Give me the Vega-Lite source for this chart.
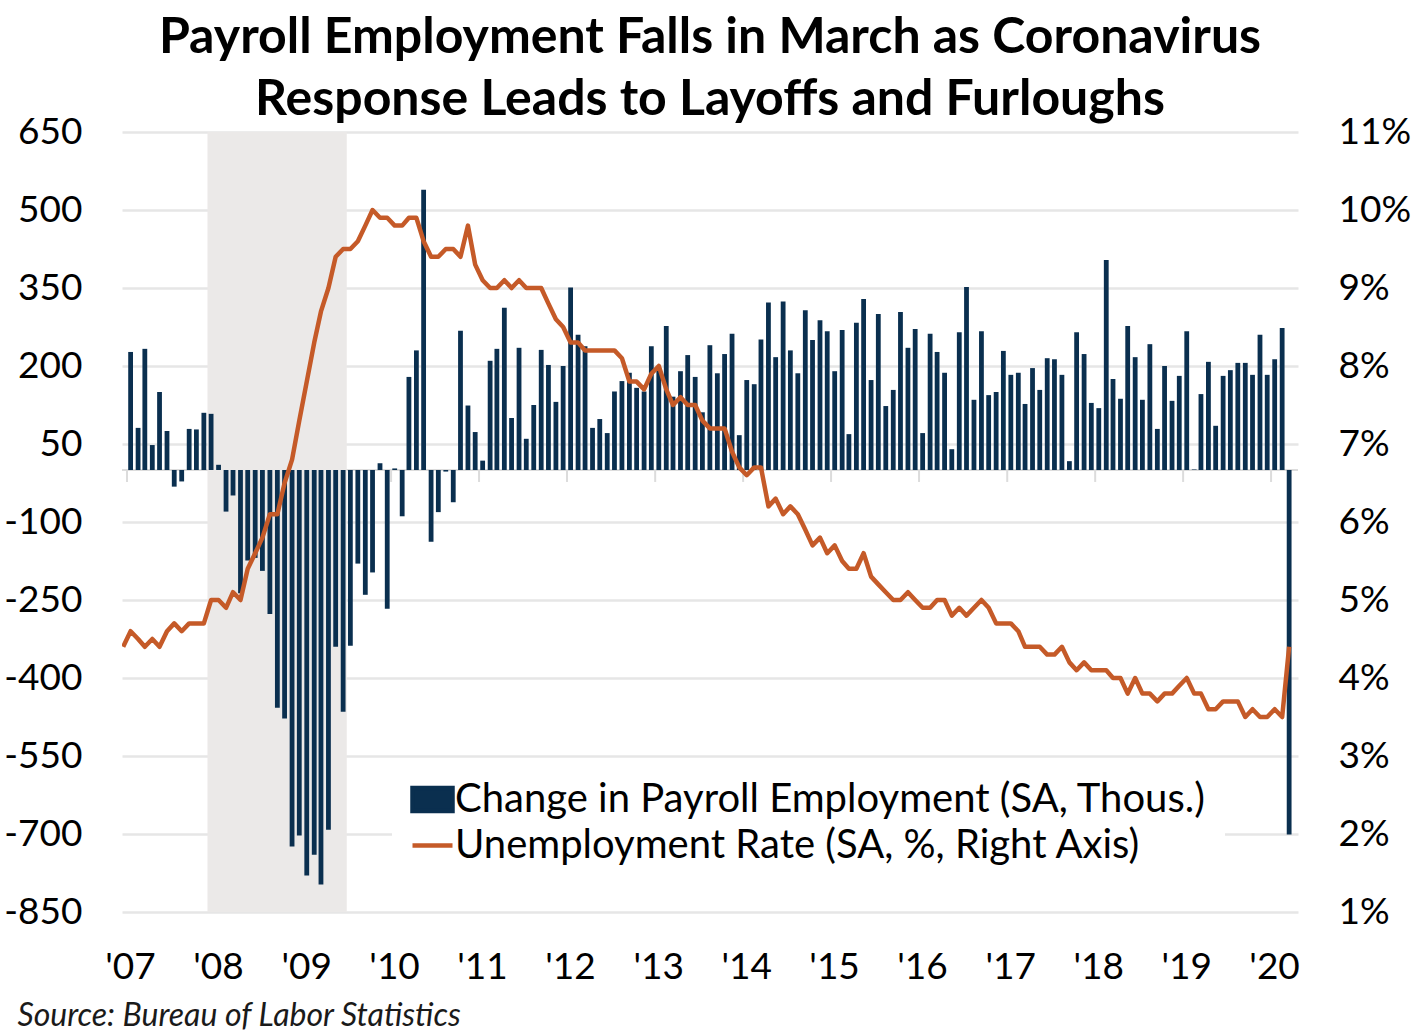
{
  "$schema": "https://vega.github.io/schema/vega-lite/v6.json",
  "width": 1176,
  "height": 780,
  "autosize": {"type": "none"},
  "padding": {"left": 122, "top": 132, "right": 123, "bottom": 121},
  "background": "white",
  "title": {
    "text": ["Payroll Employment Falls in March as Coronavirus", "Response Leads to Layoffs and Furloughs"],
    "font": "Lato",
    "fontSize": 50,
    "fontWeight": "bold",
    "color": "#000000",
    "lineHeight": 62,
    "anchor": "middle",
    "offset": -12
  },
  "datasets": {
    "jobs": [
      {"month": "2006-12-16", "payrolls": null, "unemployment": 4.4},
      {"month": "2007-01-16", "payrolls": 227, "unemployment": 4.6},
      {"month": "2007-02-16", "payrolls": 81, "unemployment": 4.5},
      {"month": "2007-03-16", "payrolls": 233, "unemployment": 4.4},
      {"month": "2007-04-16", "payrolls": 48, "unemployment": 4.5},
      {"month": "2007-05-16", "payrolls": 150, "unemployment": 4.4},
      {"month": "2007-06-16", "payrolls": 75, "unemployment": 4.6},
      {"month": "2007-07-16", "payrolls": -32, "unemployment": 4.7},
      {"month": "2007-08-16", "payrolls": -22, "unemployment": 4.6},
      {"month": "2007-09-16", "payrolls": 79, "unemployment": 4.7},
      {"month": "2007-10-16", "payrolls": 78, "unemployment": 4.7},
      {"month": "2007-11-16", "payrolls": 110, "unemployment": 4.7},
      {"month": "2007-12-16", "payrolls": 108, "unemployment": 5.0},
      {"month": "2008-01-16", "payrolls": 10, "unemployment": 5.0},
      {"month": "2008-02-16", "payrolls": -80, "unemployment": 4.9},
      {"month": "2008-03-16", "payrolls": -49, "unemployment": 5.1},
      {"month": "2008-04-16", "payrolls": -237, "unemployment": 5.0},
      {"month": "2008-05-16", "payrolls": -174, "unemployment": 5.4},
      {"month": "2008-06-16", "payrolls": -169, "unemployment": 5.6},
      {"month": "2008-07-16", "payrolls": -194, "unemployment": 5.8},
      {"month": "2008-08-16", "payrolls": -277, "unemployment": 6.1},
      {"month": "2008-09-16", "payrolls": -457, "unemployment": 6.1},
      {"month": "2008-10-16", "payrolls": -478, "unemployment": 6.5},
      {"month": "2008-11-16", "payrolls": -724, "unemployment": 6.8},
      {"month": "2008-12-16", "payrolls": -703, "unemployment": 7.3},
      {"month": "2009-01-16", "payrolls": -780, "unemployment": 7.8},
      {"month": "2009-02-16", "payrolls": -740, "unemployment": 8.3},
      {"month": "2009-03-16", "payrolls": -797, "unemployment": 8.7},
      {"month": "2009-04-16", "payrolls": -692, "unemployment": 9.0},
      {"month": "2009-05-16", "payrolls": -340, "unemployment": 9.4},
      {"month": "2009-06-16", "payrolls": -465, "unemployment": 9.5},
      {"month": "2009-07-16", "payrolls": -338, "unemployment": 9.5},
      {"month": "2009-08-16", "payrolls": -180, "unemployment": 9.6},
      {"month": "2009-09-16", "payrolls": -240, "unemployment": 9.8},
      {"month": "2009-10-16", "payrolls": -197, "unemployment": 10.0},
      {"month": "2009-11-16", "payrolls": 13, "unemployment": 9.9},
      {"month": "2009-12-16", "payrolls": -267, "unemployment": 9.9},
      {"month": "2010-01-16", "payrolls": 3, "unemployment": 9.8},
      {"month": "2010-02-16", "payrolls": -89, "unemployment": 9.8},
      {"month": "2010-03-16", "payrolls": 179, "unemployment": 9.9},
      {"month": "2010-04-16", "payrolls": 230, "unemployment": 9.9},
      {"month": "2010-05-16", "payrolls": 539, "unemployment": 9.6},
      {"month": "2010-06-16", "payrolls": -138, "unemployment": 9.4},
      {"month": "2010-07-16", "payrolls": -81, "unemployment": 9.4},
      {"month": "2010-08-16", "payrolls": -3, "unemployment": 9.5},
      {"month": "2010-09-16", "payrolls": -62, "unemployment": 9.5},
      {"month": "2010-10-16", "payrolls": 268, "unemployment": 9.4},
      {"month": "2010-11-16", "payrolls": 124, "unemployment": 9.8},
      {"month": "2010-12-16", "payrolls": 73, "unemployment": 9.3},
      {"month": "2011-01-16", "payrolls": 18, "unemployment": 9.1},
      {"month": "2011-02-16", "payrolls": 210, "unemployment": 9.0},
      {"month": "2011-03-16", "payrolls": 233, "unemployment": 9.0},
      {"month": "2011-04-16", "payrolls": 312, "unemployment": 9.1},
      {"month": "2011-05-16", "payrolls": 100, "unemployment": 9.0},
      {"month": "2011-06-16", "payrolls": 235, "unemployment": 9.1},
      {"month": "2011-07-16", "payrolls": 60, "unemployment": 9.0},
      {"month": "2011-08-16", "payrolls": 125, "unemployment": 9.0},
      {"month": "2011-09-16", "payrolls": 231, "unemployment": 9.0},
      {"month": "2011-10-16", "payrolls": 202, "unemployment": 8.8},
      {"month": "2011-11-16", "payrolls": 131, "unemployment": 8.6},
      {"month": "2011-12-16", "payrolls": 200, "unemployment": 8.5},
      {"month": "2012-01-16", "payrolls": 351, "unemployment": 8.3},
      {"month": "2012-02-16", "payrolls": 260, "unemployment": 8.3},
      {"month": "2012-03-16", "payrolls": 238, "unemployment": 8.2},
      {"month": "2012-04-16", "payrolls": 81, "unemployment": 8.2},
      {"month": "2012-05-16", "payrolls": 98, "unemployment": 8.2},
      {"month": "2012-06-16", "payrolls": 71, "unemployment": 8.2},
      {"month": "2012-07-16", "payrolls": 151, "unemployment": 8.2},
      {"month": "2012-08-16", "payrolls": 171, "unemployment": 8.1},
      {"month": "2012-09-16", "payrolls": 187, "unemployment": 7.8},
      {"month": "2012-10-16", "payrolls": 158, "unemployment": 7.8},
      {"month": "2012-11-16", "payrolls": 151, "unemployment": 7.7},
      {"month": "2012-12-16", "payrolls": 238, "unemployment": 7.9},
      {"month": "2013-01-16", "payrolls": 195, "unemployment": 8.0},
      {"month": "2013-02-16", "payrolls": 277, "unemployment": 7.7},
      {"month": "2013-03-16", "payrolls": 141, "unemployment": 7.5},
      {"month": "2013-04-16", "payrolls": 190, "unemployment": 7.6},
      {"month": "2013-05-16", "payrolls": 221, "unemployment": 7.5},
      {"month": "2013-06-16", "payrolls": 179, "unemployment": 7.5},
      {"month": "2013-07-16", "payrolls": 111, "unemployment": 7.3},
      {"month": "2013-08-16", "payrolls": 240, "unemployment": 7.2},
      {"month": "2013-09-16", "payrolls": 186, "unemployment": 7.2},
      {"month": "2013-10-16", "payrolls": 223, "unemployment": 7.2},
      {"month": "2013-11-16", "payrolls": 262, "unemployment": 6.9},
      {"month": "2013-12-16", "payrolls": 67, "unemployment": 6.7},
      {"month": "2014-01-16", "payrolls": 173, "unemployment": 6.6},
      {"month": "2014-02-16", "payrolls": 165, "unemployment": 6.7},
      {"month": "2014-03-16", "payrolls": 251, "unemployment": 6.7},
      {"month": "2014-04-16", "payrolls": 322, "unemployment": 6.2},
      {"month": "2014-05-16", "payrolls": 217, "unemployment": 6.3},
      {"month": "2014-06-16", "payrolls": 324, "unemployment": 6.1},
      {"month": "2014-07-16", "payrolls": 230, "unemployment": 6.2},
      {"month": "2014-08-16", "payrolls": 186, "unemployment": 6.1},
      {"month": "2014-09-16", "payrolls": 307, "unemployment": 5.9},
      {"month": "2014-10-16", "payrolls": 250, "unemployment": 5.7},
      {"month": "2014-11-16", "payrolls": 288, "unemployment": 5.8},
      {"month": "2014-12-16", "payrolls": 267, "unemployment": 5.6},
      {"month": "2015-01-16", "payrolls": 190, "unemployment": 5.7},
      {"month": "2015-02-16", "payrolls": 269, "unemployment": 5.5},
      {"month": "2015-03-16", "payrolls": 69, "unemployment": 5.4},
      {"month": "2015-04-16", "payrolls": 283, "unemployment": 5.4},
      {"month": "2015-05-16", "payrolls": 329, "unemployment": 5.6},
      {"month": "2015-06-16", "payrolls": 173, "unemployment": 5.3},
      {"month": "2015-07-16", "payrolls": 300, "unemployment": 5.2},
      {"month": "2015-08-16", "payrolls": 123, "unemployment": 5.1},
      {"month": "2015-09-16", "payrolls": 154, "unemployment": 5.0},
      {"month": "2015-10-16", "payrolls": 304, "unemployment": 5.0},
      {"month": "2015-11-16", "payrolls": 235, "unemployment": 5.1},
      {"month": "2015-12-16", "payrolls": 271, "unemployment": 5.0},
      {"month": "2016-01-16", "payrolls": 71, "unemployment": 4.9},
      {"month": "2016-02-16", "payrolls": 262, "unemployment": 4.9},
      {"month": "2016-03-16", "payrolls": 227, "unemployment": 5.0},
      {"month": "2016-04-16", "payrolls": 187, "unemployment": 5.0},
      {"month": "2016-05-16", "payrolls": 40, "unemployment": 4.8},
      {"month": "2016-06-16", "payrolls": 265, "unemployment": 4.9},
      {"month": "2016-07-16", "payrolls": 352, "unemployment": 4.8},
      {"month": "2016-08-16", "payrolls": 135, "unemployment": 4.9},
      {"month": "2016-09-16", "payrolls": 267, "unemployment": 5.0},
      {"month": "2016-10-16", "payrolls": 144, "unemployment": 4.9},
      {"month": "2016-11-16", "payrolls": 150, "unemployment": 4.7},
      {"month": "2016-12-16", "payrolls": 229, "unemployment": 4.7},
      {"month": "2017-01-16", "payrolls": 183, "unemployment": 4.7},
      {"month": "2017-02-16", "payrolls": 187, "unemployment": 4.6},
      {"month": "2017-03-16", "payrolls": 127, "unemployment": 4.4},
      {"month": "2017-04-16", "payrolls": 196, "unemployment": 4.4},
      {"month": "2017-05-16", "payrolls": 154, "unemployment": 4.4},
      {"month": "2017-06-16", "payrolls": 215, "unemployment": 4.3},
      {"month": "2017-07-16", "payrolls": 213, "unemployment": 4.3},
      {"month": "2017-08-16", "payrolls": 183, "unemployment": 4.4},
      {"month": "2017-09-16", "payrolls": 17, "unemployment": 4.2},
      {"month": "2017-10-16", "payrolls": 265, "unemployment": 4.1},
      {"month": "2017-11-16", "payrolls": 223, "unemployment": 4.2},
      {"month": "2017-12-16", "payrolls": 129, "unemployment": 4.1},
      {"month": "2018-01-16", "payrolls": 119, "unemployment": 4.1},
      {"month": "2018-02-16", "payrolls": 404, "unemployment": 4.1},
      {"month": "2018-03-16", "payrolls": 175, "unemployment": 4.0},
      {"month": "2018-04-16", "payrolls": 137, "unemployment": 4.0},
      {"month": "2018-05-16", "payrolls": 277, "unemployment": 3.8},
      {"month": "2018-06-16", "payrolls": 217, "unemployment": 4.0},
      {"month": "2018-07-16", "payrolls": 135, "unemployment": 3.8},
      {"month": "2018-08-16", "payrolls": 242, "unemployment": 3.8},
      {"month": "2018-09-16", "payrolls": 79, "unemployment": 3.7},
      {"month": "2018-10-16", "payrolls": 200, "unemployment": 3.8},
      {"month": "2018-11-16", "payrolls": 133, "unemployment": 3.8},
      {"month": "2018-12-16", "payrolls": 181, "unemployment": 3.9},
      {"month": "2019-01-16", "payrolls": 267, "unemployment": 4.0},
      {"month": "2019-02-16", "payrolls": 1, "unemployment": 3.8},
      {"month": "2019-03-16", "payrolls": 146, "unemployment": 3.8},
      {"month": "2019-04-16", "payrolls": 208, "unemployment": 3.6},
      {"month": "2019-05-16", "payrolls": 85, "unemployment": 3.6},
      {"month": "2019-06-16", "payrolls": 181, "unemployment": 3.7},
      {"month": "2019-07-16", "payrolls": 192, "unemployment": 3.7},
      {"month": "2019-08-16", "payrolls": 206, "unemployment": 3.7},
      {"month": "2019-09-16", "payrolls": 206, "unemployment": 3.5},
      {"month": "2019-10-16", "payrolls": 183, "unemployment": 3.6},
      {"month": "2019-11-16", "payrolls": 260, "unemployment": 3.5},
      {"month": "2019-12-16", "payrolls": 183, "unemployment": 3.5},
      {"month": "2020-01-16", "payrolls": 213, "unemployment": 3.6},
      {"month": "2020-02-16", "payrolls": 273, "unemployment": 3.5},
      {"month": "2020-03-16", "payrolls": -701, "unemployment": 4.4}
    ],
    "recession": [
      {"start": "2007-12-01", "end": "2009-07-01"}
    ],
    "years": [
      {"year": "2007-01-01"}, {"year": "2008-01-01"}, {"year": "2009-01-01"},
      {"year": "2010-01-01"}, {"year": "2011-01-01"}, {"year": "2012-01-01"},
      {"year": "2013-01-01"}, {"year": "2014-01-01"}, {"year": "2015-01-01"},
      {"year": "2016-01-01"}, {"year": "2017-01-01"}, {"year": "2018-01-01"},
      {"year": "2019-01-01"}, {"year": "2020-01-01"}
    ]
  },
  "layer": [
    {
      "layer": [
        {
          "data": {"name": "years"},
          "mark": {"type": "rule", "color": "#dcdcdc", "strokeWidth": 2},
          "encoding": {
            "x": {
              "field": "year",
              "type": "temporal",
              "scale": {
                "type": "utc",
                "domain": [
                  {"year": 2007, "month": 1, "date": 1, "utc": true},
                  {"year": 2020, "month": 4, "date": 1, "utc": true}
                ]
              },
              "axis": {
                "values": [
                  {"year": 2007, "month": 1, "date": 1, "utc": true},
                  {"year": 2008, "month": 1, "date": 1, "utc": true},
                  {"year": 2009, "month": 1, "date": 1, "utc": true},
                  {"year": 2010, "month": 1, "date": 1, "utc": true},
                  {"year": 2011, "month": 1, "date": 1, "utc": true},
                  {"year": 2012, "month": 1, "date": 1, "utc": true},
                  {"year": 2013, "month": 1, "date": 1, "utc": true},
                  {"year": 2014, "month": 1, "date": 1, "utc": true},
                  {"year": 2015, "month": 1, "date": 1, "utc": true},
                  {"year": 2016, "month": 1, "date": 1, "utc": true},
                  {"year": 2017, "month": 1, "date": 1, "utc": true},
                  {"year": 2018, "month": 1, "date": 1, "utc": true},
                  {"year": 2019, "month": 1, "date": 1, "utc": true},
                  {"year": 2020, "month": 1, "date": 1, "utc": true}
                ],
                "format": "'%y",
                "grid": false,
                "domain": false,
                "ticks": false,
                "labelFont": "Lato",
                "labelFontSize": 37,
                "labelColor": "#000000",
                "labelPadding": 37,
                "labelOffset": 3,
                "labelFlush": false,
                "labelOverlap": false,
                "title": "Source: Bureau of Labor Statistics",
                "titleFont": "Lato",
                "titleFontSize": 32,
                "titleFontStyle": "italic",
                "titleFontWeight": "normal",
                "titleColor": "#1a1a1a",
                "titleAnchor": "start",
                "titleAlign": "left",
                "titleBaseline": "alphabetic",
                "titleX": -105,
                "titleY": 113
              }
            },
            "y": {
              "datum": 0,
              "type": "quantitative",
              "scale": {"domain": [-850, 650], "nice": false, "zero": false},
              "axis": {
                "values": [-850, -700, -550, -400, -250, -100, 50, 200, 350, 500, 650],
                "orient": "left",
                "title": null,
                "grid": true,
                "gridColor": "#e6e6e6",
                "gridWidth": 2.5,
                "domain": false,
                "ticks": false,
                "labelExpr": "datum.value + ''",
                "labelFont": "Lato",
                "labelFontSize": 37,
                "labelColor": "#000000",
                "labelPadding": 40
              }
            },
            "y2": {"datum": -23}
          }
        },
        {
          "data": {"values": [{"level": 0}]},
          "mark": {"type": "rule", "color": "#dcdcdc", "strokeWidth": 2},
          "encoding": {
            "y": {"field": "level", "type": "quantitative"}
          }
        },
        {
          "data": {"name": "recession"},
          "mark": {"type": "rect", "color": "#ebe9e8"},
          "encoding": {
            "x": {"field": "start", "type": "temporal"},
            "x2": {"field": "end"}
          }
        },
        {
          "data": {"name": "jobs"},
          "transform": [{"filter": "datum.payrolls != null"}],
          "mark": {"type": "bar", "width": 4.8},
          "encoding": {
            "x": {"field": "month", "type": "temporal"},
            "y": {"field": "payrolls", "type": "quantitative"},
            "color": {
              "datum": "Change in Payroll Employment (SA, Thous.)",
              "type": "nominal",
              "scale": {
                "domain": ["Change in Payroll Employment (SA, Thous.)", "Unemployment Rate (SA, %, Right Axis)"],
                "range": ["#0a2f4f", "#c55a28"]
              },
              "legend": {
                "orient": "none",
                "legendX": 270,
                "legendY": 627,
                "direction": "vertical",
                "title": null,
                "fillColor": "white",
                "padding": 18,
                "labelFont": "Lato",
                "labelFontSize": 40,
                "labelColor": "#000000",
                "labelLimit": 2000,
                "labelOffset": 0,
                "symbolSize": 1600,
                "rowPadding": 2,
                "encode": {
                  "symbols": {
                    "update": {
                      "shape": {"signal": "datum.value === 'Change in Payroll Employment (SA, Thous.)' ? 'M-1,-0.58H1V0.58H-1Z' : 'M-1,0H1'"},
                      "fill": {"signal": "datum.value === 'Change in Payroll Employment (SA, Thous.)' ? '#0a2f4f' : 'transparent'"},
                      "stroke": {"signal": "datum.value === 'Change in Payroll Employment (SA, Thous.)' ? 'transparent' : '#c55a28'"},
                      "strokeWidth": {"value": 4.5},
                      "opacity": {"value": 1},
                      "fillOpacity": {"value": 1}
                    }
                  }
                }
              }
            }
          }
        }
      ]
    },
    {
      "data": {"name": "jobs"},
      "mark": {"type": "line", "strokeWidth": 4.5, "clip": true, "strokeJoin": "round"},
      "encoding": {
        "x": {"field": "month", "type": "temporal"},
        "y": {
          "field": "unemployment",
          "type": "quantitative",
          "scale": {"domain": [1, 11], "nice": false, "zero": false},
          "axis": {
            "values": [1, 2, 3, 4, 5, 6, 7, 8, 9, 10, 11],
            "orient": "right",
            "title": null,
            "grid": false,
            "domain": false,
            "ticks": false,
            "labelExpr": "datum.value + '%'",
            "labelFont": "Lato",
            "labelFontSize": 37,
            "labelColor": "#000000",
            "labelPadding": 40
          }
        },
        "color": {"datum": "Unemployment Rate (SA, %, Right Axis)", "type": "nominal"}
      }
    }
  ],
  "resolve": {"scale": {"y": "independent"}},
  "config": {
    "view": {"stroke": null},
    "font": "Lato"
  }
}
